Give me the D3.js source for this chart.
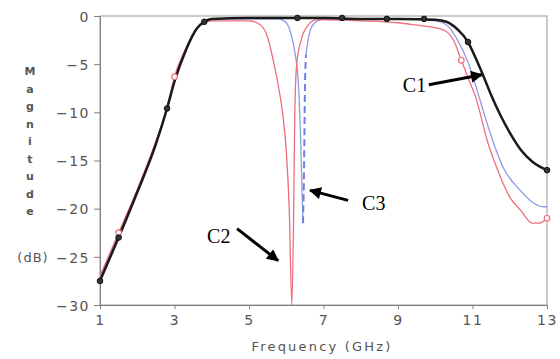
<!DOCTYPE html>
<html>
<head>
<meta charset="utf-8">
<script src="https://cdn.jsdelivr.net/npm/d3@7"></script>
<style>
  body { margin: 0; background: #fff; }
  svg { display: block; }
  .tick text { font-family: "DejaVu Sans", sans-serif; font-size: 14px; fill: #555; }
</style>
</head>
<body>
<svg id="chart" width="560" height="359"></svg>
<script>
const width = 560;
const height = 359;
const margin = { left: 100, right: 13, top: 16, bottom: 54 };

// x tick values / y tick values
const xTicks = [1, 3, 5, 7, 9, 11, 13];
const yTicks = [0, -5, -10, -15, -20, -25, -30];

// C1 (black)
const freqC1 = [1, 1.5, 2, 2.5, 2.8, 3.0, 3.3, 3.6, 3.8, 4.0, 5, 6, 7, 8, 9, 10, 10.3, 10.6, 10.88, 11.1, 11.3, 11.5, 11.75, 12.0, 12.3, 12.6, 13];
const magC1 = [-27.5, -23, -18.3, -13.3, -9.6, -6.8, -3.6, -1.3, -0.6, -0.3, -0.2, -0.2, -0.2, -0.3, -0.3, -0.4, -0.6, -1.4, -2.7, -4.5, -6.3, -8.2, -10.3, -12.1, -13.9, -15.1, -16.0];
const markC1F = [1, 1.5, 2.8, 3.8, 6.3, 7.5, 8.7, 9.7, 10.88, 13];
const markC1M = [-27.5, -23, -9.6, -0.6, -0.2, -0.2, -0.3, -0.3, -2.7, -16.0];

// C2 (pink / red)
const freqC2 = [1, 1.5, 2, 2.5, 2.8, 3.0, 3.3, 3.6, 3.8, 4.0, 4.5, 5.0, 5.3, 5.5, 5.65, 5.8, 5.9, 6.0, 6.08, 6.15, 6.2, 6.23, 6.28, 6.4, 6.6, 6.8, 7.0, 8, 9, 9.6, 10, 10.3, 10.5, 10.7, 10.9, 11.1, 11.4, 11.75, 12.0, 12.3, 12.6, 12.8, 13];
const magC2 = [-27, -22.5, -18, -13, -9.5, -6.3, -3.4, -1.3, -0.7, -0.5, -0.5, -0.5, -0.9, -2.2, -4.6, -7.5, -10, -14, -20, -30, -20, -10, -5, -2.5, -0.9, -0.4, -0.4, -0.5, -0.7, -1.0, -1.2, -1.6, -2.6, -4.6, -6.6, -8.6, -13, -16.7, -18.8, -20.2, -21.5, -21.5, -21.0];
const markC2F = [1.5, 3.0, 10.7, 13];
const markC2M = [-22.5, -6.3, -4.6, -21.0];

// C3 (blue), notch bottom at 6.45 GHz
const freqC3 = [1, 1.5, 2, 2.5, 2.8, 3.0, 3.3, 3.6, 3.8, 4.0, 5.0, 5.8, 6.0, 6.15, 6.25, 6.32, 6.38, 6.45, 6.48, 6.5, 6.53, 6.6, 6.7, 6.85, 7.0, 8, 9, 10, 10.3, 10.6, 10.9, 11.2, 11.47, 11.82, 12.28, 12.6, 12.9, 13];
const magC3 = [-27.2, -22.7, -18.2, -13.1, -9.5, -6.5, -3.4, -1.2, -0.5, -0.3, -0.3, -0.3, -0.7, -2.2, -4.2, -6.6, -12, -21.5, -15, -8, -4, -2.2, -1.0, -0.5, -0.3, -0.3, -0.3, -0.5, -0.9, -2.5, -5, -8.7, -12.1, -15.7, -18.1, -19.3, -19.8, -19.8];
const notchC3 = 6.45;
const dashEndC3 = 6.53;

// annotation labels, arrow tips
const labels = ["C1", "C2", "C3"];
const labelPos = [[11.25, -6.1], [5.78, -25.4], [6.64, -18.1]];

const svg = d3.select("#chart");

const x = d3.scaleLinear().domain([1, 13]).range([margin.left, width - margin.right]);
const y = d3.scaleLinear().domain([-30, 0]).range([height - margin.bottom, margin.top]);

// frame
svg.append("rect")
  .attr("x", x(1)).attr("y", y(0))
  .attr("width", x(13) - x(1)).attr("height", y(-30) - y(0))
  .attr("fill", "none").attr("stroke", "#9a9a9a").attr("stroke-width", 1);

const xAxis = svg.append("g")
  .attr("transform", `translate(0,${y(-30)})`)
  .call(d3.axisBottom(x).tickValues(xTicks).tickSize(4).tickSizeOuter(0).tickPadding(6));
xAxis.selectAll("text").attr("letter-spacing", "1.5px").attr("font-size", 15);

const yAxis = svg.append("g")
  .attr("transform", `translate(${x(1)},0)`)
  .call(d3.axisLeft(y).tickValues(yTicks).tickSize(6).tickSizeOuter(0).tickPadding(4).tickFormat(d3.format("d")));
yAxis.selectAll("text").attr("letter-spacing", "1.5px").attr("font-size", 15).attr("dy", "0.38em");

svg.selectAll(".domain, .tick line").attr("stroke", "#808080");

// y label, stacked letters
const yLabel = "Magnitude".split("");
svg.append("g").selectAll("text")
  .data(yLabel)
  .join("text")
  .attr("x", 30)
  .attr("y", (d, i) => 75 + i * 17.5)
  .attr("text-anchor", "middle")
  .attr("font-family", "DejaVu Sans, sans-serif")
  .attr("font-size", 11)
  .attr("font-weight", "bold")
  .attr("fill", "#555")
  .text(d => d);

svg.append("text")
  .attr("x", 33).attr("y", y(-25) + 5)
  .attr("text-anchor", "middle")
  .attr("font-family", "DejaVu Sans, sans-serif")
  .attr("font-size", 13)
  .attr("letter-spacing", "1px")
  .attr("fill", "#555")
  .text("(dB)");

svg.append("text")
  .attr("x", 322).attr("y", 351)
  .attr("text-anchor", "middle")
  .attr("font-family", "DejaVu Sans, sans-serif")
  .attr("font-size", 13)
  .attr("letter-spacing", "2.2px")
  .attr("fill", "#555")
  .text("Frequency (GHz)");

// curves
const line = d3.line()
  .x(d => x(d[0]))
  .y(d => y(d[1]))
  .curve(d3.curveMonotoneX);

const ptsC1 = freqC1.map((f, i) => [f, magC1[i]]);
const ptsC2 = freqC2.map((f, i) => [f, magC2[i]]);
const ptsC3 = freqC3.map((f, i) => [f, magC3[i]]);

const plot = svg.append("g");

// blue: solid except the right wall of the notch, which is dashed
const minIdx = freqC3.indexOf(notchC3);
const dashEnd = freqC3.indexOf(dashEndC3);
plot.append("path")
  .attr("d", line(ptsC3.slice(0, minIdx + 1)))
  .attr("fill", "none").attr("stroke", "#8c9be6").attr("stroke-width", 1.3);
plot.append("path")
  .attr("d", line(ptsC3.slice(dashEnd)))
  .attr("fill", "none").attr("stroke", "#8c9be6").attr("stroke-width", 1.3);
plot.append("path")
  .attr("d", line(ptsC3.slice(minIdx, dashEnd + 1)))
  .attr("fill", "none").attr("stroke", "#6f80de").attr("stroke-width", 2)
  .attr("stroke-dasharray", "7,4");

plot.append("path")
  .attr("d", line(ptsC2))
  .attr("fill", "none").attr("stroke", "#ee6f7c").attr("stroke-width", 1.3);

plot.append("path")
  .attr("d", line(ptsC1))
  .attr("fill", "none").attr("stroke", "#1a1a1a").attr("stroke-width", 2.5);

plot.selectAll(".m2")
  .data(markC2F)
  .join("circle")
  .attr("class", "m2")
  .attr("cx", d => x(d))
  .attr("cy", (d, i) => y(markC2M[i]))
  .attr("r", 2.8)
  .attr("fill", "#fff").attr("stroke", "#ee6f7c").attr("stroke-width", 1.2);

plot.selectAll(".m1")
  .data(markC1F)
  .join("circle")
  .attr("class", "m1")
  .attr("cx", d => x(d))
  .attr("cy", (d, i) => y(markC1M[i]))
  .attr("r", 2.8)
  .attr("fill", "#333").attr("stroke", "#111").attr("stroke-width", 1);

// annotations with arrows
svg.append("defs").append("marker")
  .attr("id", "head")
  .attr("viewBox", "0 0 10 10")
  .attr("refX", 9).attr("refY", 5)
  .attr("markerWidth", 4.5).attr("markerHeight", 4)
  .attr("markerUnits", "strokeWidth")
  .attr("orient", "auto")
  .append("path").attr("d", "M0,0 L10,5 L0,10 Z").attr("fill", "#000");

// text position and arrow start relative to the tip
const textOff = [[-79, 17], [-71, -18], [52, 20]];
const tailOff = [[-53, 10], [-41, -32], [38, 10]];

labels.forEach((lab, i) => {
  const tx = x(labelPos[i][0]);
  const ty = y(labelPos[i][1]);
  svg.append("line")
    .attr("x1", tx + tailOff[i][0]).attr("y1", ty + tailOff[i][1])
    .attr("x2", tx).attr("y2", ty)
    .attr("stroke", "#000").attr("stroke-width", 3)
    .attr("marker-end", "url(#head)");
  svg.append("text")
    .attr("x", tx + textOff[i][0]).attr("y", ty + textOff[i][1])
    .attr("font-family", "Liberation Serif, serif")
    .attr("font-size", 20)
    .attr("fill", "#000")
    .text(lab);
});
</script>
</body>
</html>
